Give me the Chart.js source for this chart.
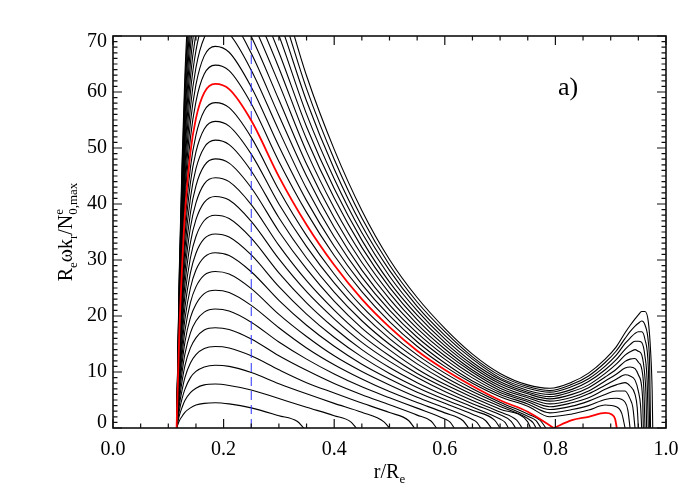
<!DOCTYPE html>
<html lang="en">
<head>
<meta charset="UTF-8">
<title>Dispersion curves a)</title>
<script src="https://cdn.jsdelivr.net/npm/chart.js"></script>
<style>
  body { margin: 0; background: #fff; }
  canvas { display: block; }
</style>
</head>
<body>
<canvas id="chartCanvas" width="700" height="500"></canvas>
<script>
// r/Re sample points shared by every curve
var rGrid = [0.115, 0.12, 0.125, 0.13, 0.14, 0.15, 0.165, 0.185, 0.21, 0.25, 0.3, 0.35, 0.4, 0.45, 0.5,
  0.55, 0.6, 0.65, 0.7, 0.75, 0.79, 0.83, 0.86, 0.89, 0.91, 0.926, 0.935, 0.944, 0.95, 0.956, 0.962, 0.968, 0.972];

// Re*w*kr/N values read along rGrid, one row per curve from bottom to top (row 17 is the red one)
var curveY = [
  [0, 1.3, 2.1, 2.8, 3.6, 4.1, 4.4, 4.5, 4.3, 3.6, 2.2],
  [0, 2.2, 3.7, 4.9, 6.3, 7.1, 7.7, 7.85, 7.6, 6.8, 5.25, 3.7, 2.2],
  [0, 3.1, 5.3, 6.9, 9.0, 10.1, 10.9, 11.2, 11.0, 9.9, 7.9, 6.1, 4.4, 2.8],
  [0, 4.1, 6.8, 9.0, 11.6, 13.1, 14.2, 14.55, 14.3, 12.9, 10.4, 8.1, 6.25, 4.45, 2.75],
  [0, 5.0, 8.4, 11.1, 14.3, 16.1, 17.5, 17.9, 17.6, 15.9, 12.9, 10.3, 7.95, 5.95, 4.15, 2.3],
  [0, 6.0, 10.0, 13.2, 17.0, 19.1, 20.7, 21.25, 20.9, 18.9, 15.35, 12.3, 9.65, 7.35, 5.4, 3.55, 1.6],
  [0, 6.9, 11.6, 15.3, 19.7, 22.1, 24.0, 24.6, 24.2, 21.9, 17.9, 14.3, 11.3, 8.75, 6.5, 4.55, 2.7],
  [0, 7.8, 13.1, 17.3, 22.4, 25.2, 27.3, 27.95, 27.5, 24.9, 20.3, 16.35, 12.9, 10.1, 7.7, 5.5, 3.6, 1.5],
  [0, 8.8, 14.7, 19.4, 25.0, 28.2, 30.5, 31.3, 30.8, 27.9, 22.8, 18.35, 14.6, 11.4, 8.75, 6.4, 4.4, 2.45],
  [0, 9.7, 16.3, 21.5, 27.7, 31.2, 33.8, 34.65, 34.1, 30.9, 25.25, 20.35, 16.2, 12.7, 9.75, 7.25, 5.1, 3.15],
  [0, 10.6, 17.9, 23.6, 30.4, 34.2, 37.05, 38.0, 37.4, 33.9, 27.7, 22.35, 17.85, 14.0, 10.8, 8.1, 5.8, 3.75, 1.6],
  [0, 11.6, 19.4, 25.6, 33.1, 37.2, 40.3, 41.35, 40.7, 36.9, 30.2, 24.35, 19.5, 15.3, 11.9, 9.0, 6.5, 4.35, 2.35],
  [0, 12.5, 21.0, 27.7, 35.8, 40.2, 43.6, 44.7, 44.0, 39.9, 32.6, 26.3, 21.05, 16.55, 12.9, 9.75, 7.2, 4.9, 2.85],
  [0, 13.5, 22.6, 29.8, 38.4, 43.25, 46.85, 48.05, 47.3, 42.9, 35.1, 28.4, 22.65, 17.85, 13.95, 10.55, 7.8, 5.5, 3.35, 1.1],
  [0, 14.4, 24.2, 31.9, 41.1, 46.3, 50.1, 51.4, 50.6, 45.9, 37.55, 30.35, 24.25, 19.15, 14.95, 11.45, 8.5, 6.0, 3.85, 1.7],
  [0, 15.3, 25.7, 33.95, 43.8, 49.3, 53.4, 54.75, 53.9, 48.9, 40.0, 32.4, 25.9, 20.45, 15.95, 12.25, 9.1, 6.5, 4.25, 2.1],
  [0, 16.3, 27.3, 36.0, 46.5, 52.3, 56.65, 58.1, 57.2, 51.9, 42.5, 34.35, 27.5, 21.7, 17.0, 13.05, 9.8, 7.0, 4.6, 2.5],
  [0, 17.2, 28.9, 38.1, 49.2, 55.3, 59.9, 61.45, 60.5, 54.9, 44.9, 36.3, 29.1, 23.0, 18.0, 13.8, 10.4, 7.5, 4.95, 2.9, 0.45],
  [0, 18.1, 30.5, 40.2, 51.8, 58.3, 63.2, 64.8, 63.8, 57.9, 47.6, 38.5, 30.8, 24.35, 19.0, 14.6, 11.0, 8.0, 5.6, 3.9, 2.0, 2.5, 3.2, 4.1, 3.8],
  [0, 19.1, 32.0, 42.25, 54.5, 61.3, 66.45, 68.15, 67.1, 60.9, 50.3, 40.6, 32.45, 25.65, 20.05, 15.4, 11.6, 8.4, 6.0, 4.3, 2.7, 3.3, 4.0, 5.1, 5.3, 4.6],
  [0, 20.0, 33.6, 44.3, 57.2, 64.35, 69.7, 71.5, 70.4, 63.9, 53.1, 42.75, 34.15, 26.95, 21.05, 16.2, 12.3, 8.95, 6.35, 4.7, 3.3, 3.9, 4.8, 6.0, 6.6, 6.6, 5.2],
  [0, 21.0, 35.2, 46.4, 59.9, 67.4, 73.0, 74.85, 73.7, 66.9, 55.8, 45.0, 35.85, 28.2, 22.0, 17.0, 12.9, 9.45, 6.7, 5.0, 3.8, 4.5, 5.4, 6.9, 7.7, 8.1, 7.5, 6.0],
  [0, 21.9, 36.75, 48.5, 62.6, 70.4, 76.25, 78.2, 77.0, 69.9, 58.6, 47.15, 37.55, 29.55, 23.05, 17.8, 13.5, 9.95, 7.1, 5.4, 4.3, 5.0, 6.1, 7.65, 8.7, 9.5, 9.3, 8.55, 6.6],
  [0, 22.8, 38.3, 50.6, 65.2, 73.4, 79.5, 81.55, 80.3, 72.9, 61.5, 49.35, 39.3, 30.9, 24.1, 18.55, 14.1, 10.35, 7.5, 5.7, 4.8, 5.5, 6.6, 8.4, 9.6, 10.7, 10.9, 10.6, 9.5, 7.4],
  [0, 23.8, 39.9, 52.6, 67.9, 76.4, 82.8, 84.9, 83.6, 75.9, 64.3, 51.6, 41.05, 32.25, 25.1, 19.35, 14.7, 10.85, 7.9, 6.1, 5.2, 6.0, 7.2, 9.1, 10.5, 11.9, 12.3, 12.4, 11.75, 10.6],
  [0, 24.7, 41.5, 54.7, 70.6, 79.4, 86.0, 88.25, 86.9, 78.9, 67.1, 53.8, 42.75, 33.55, 26.05, 20.15, 15.3, 11.3, 8.25, 6.4, 5.6, 6.5, 7.7, 9.75, 11.4, 13.0, 13.6, 14.0, 13.7, 13.1, 9.0],
  [0, 25.65, 43.05, 56.8, 73.3, 82.4, 89.3, 91.6, 90.2, 81.9, 70.1, 56.05, 44.5, 34.85, 27.1, 20.95, 15.9, 11.75, 8.65, 6.7, 6.0, 6.9, 8.3, 10.4, 12.2, 14.05, 14.9, 15.5, 15.5, 15.3, 12.8],
  [0, 26.6, 44.6, 58.9, 76.0, 85.5, 92.6, 94.95, 93.5, 84.9, 72.95, 58.4, 46.25, 36.15, 28.15, 21.7, 16.55, 12.3, 8.95, 7.1, 6.4, 7.4, 8.8, 11.05, 13.0, 15.1, 16.05, 16.9, 17.2, 17.2, 15.8, 10.8],
  [0, 27.5, 46.2, 60.95, 78.6, 88.5, 95.8, 98.3, 96.8, 87.9, 75.85, 60.6, 48.0, 37.5, 29.1, 22.5, 17.2, 12.7, 9.35, 7.4, 6.7, 7.8, 9.3, 11.7, 13.75, 16.0, 17.2, 18.2, 18.7, 19.1, 18.4, 15.4],
  [0, 28.5, 47.8, 63.0, 81.3, 91.5, 99.1, 101.65, 100.1, 90.9, 78.9, 62.9, 49.75, 38.85, 30.1, 23.3, 17.8, 13.2, 9.75, 7.7, 7.1, 8.2, 9.8, 12.3, 14.5, 17.0, 18.3, 19.5, 20.2, 20.8, 20.8, 19.0, 14.0]
];

// last [r, value] points of each curve after it leaves rGrid, ending on zero
var curveTail = [
  [[0.333, 1.2], [0.345, 0]],
  [[0.43, 1.1], [0.44, 0]],
  [[0.49, 1.1], [0.5, 0]],
  [[0.535, 1.3], [0.545, 0]],
  [[0.575, 1.25], [0.585, 0]],
  [[0.61, 1.0], [0.617, 0]],
  [[0.633, 1.3], [0.643, 0]],
  [[0.658, 1.0], [0.665, 0]],
  [[0.674, 1.3], [0.684, 0]],
  [[0.69, 1.4], [0.7, 0]],
  [[0.709, 1.0], [0.715, 0]],
  [[0.72, 1.2], [0.728, 0]],
  [[0.73, 1.4], [0.74, 0]],
  [[0.755, 0]],
  [[0.76, 0.9], [0.765, 0]],
  [[0.765, 1.3], [0.774, 0]],
  [[0.772, 1.4], [0.783, 0]],
  [[0.797, 0]],
  [[0.92, 2.6], [0.926, 0]],
  [[0.931, 3.2], [0.935, 0]],
  [[0.94, 3.7], [0.944, 0]],
  [[0.948, 3.6], [0.95, 0]],
  [[0.954, 4.0], [0.956, 0]],
  [[0.958, 4.4], [0.959, 0]],
  [[0.96, 6.8], [0.962, 0]],
  [[0.964, 5.3], [0.965, 0]],
  [[0.966, 8.1], [0.968, 0]],
  [[0.9695, 5.0], [0.9705, 0]],
  [[0.9705, 10.9], [0.972, 0]],
  [[0.975, 6.5], [0.976, 0]]
];

var redIndex = 17;

// small hump of the red curve right of its zero near r = 0.8
var humpR = [0.797, 0.83, 0.86, 0.89, 0.902, 0.908, 0.911];
var humpY = [0, 1.4, 2.0, 2.7, 2.4, 1.6, 0];

// dashed marker
var markerR = 0.25;
var markerY = [0, 70];

var serif = "'Liberation Serif', 'DejaVu Serif', serif";

function buildPoints(ys, tail) {
  var pts = [];
  for (var i = 0; i < ys.length; i++) pts.push({ x: rGrid[i], y: ys[i] });
  tail.forEach(function (p) { pts.push({ x: p[0], y: p[1] }); });
  return pts;
}

var datasets = [];
curveY.forEach(function (ys, k) {
  var red = k === redIndex;
  datasets.push({
    data: buildPoints(ys, curveTail[k]),
    borderColor: red ? '#ff0000' : '#000000',
    borderWidth: red ? 1.8 : 1.1,
    order: red ? 0 : 2
  });
});
datasets.push({
  data: humpR.map(function (r, i) { return { x: r, y: humpY[i] }; }),
  borderColor: '#ff0000',
  borderWidth: 1.8,
  order: 0
});
datasets.push({
  data: markerY.map(function (v) { return { x: markerR, y: v }; }),
  borderColor: 'rgb(40,50,255)',
  borderWidth: 1,
  borderDash: [9, 5],
  cubicInterpolationMode: 'default',
  tension: 0,
  order: 1
});

// draws rich text (0 normal, 1 subscript, 2 superscript stacked over the next subscript)
function drawRich(ctx, parts, big, small) {
  var widths = parts.map(function (p) {
    ctx.font = (p[1] ? small : big) + 'px ' + serif;
    return ctx.measureText(p[0]).width;
  });
  var total = 0;
  parts.forEach(function (p, i) {
    if (p[1] === 2) return;
    var w = widths[i];
    if (i > 0 && parts[i - 1][1] === 2) w = Math.max(w, widths[i - 1]);
    total += w;
  });
  var x = -total / 2;
  parts.forEach(function (p, i) {
    ctx.font = (p[1] ? small : big) + 'px ' + serif;
    var dy = p[1] === 1 ? 5 : (p[1] === 2 ? -9 : 0);
    ctx.fillText(p[0], x, dy);
    if (p[1] === 2) return;
    var w = widths[i];
    if (i > 0 && parts[i - 1][1] === 2) w = Math.max(w, widths[i - 1]);
    x += w;
  });
}

var framePlugin = {
  id: 'frame',
  afterDraw: function (chart) {
    var ctx = chart.ctx, a = chart.chartArea, xs = chart.scales.x, ys = chart.scales.y;
    ctx.save();
    ctx.strokeStyle = '#111';
    ctx.lineWidth = 1.6;
    ctx.strokeRect(a.left, a.top, a.right - a.left, a.bottom - a.top);

    ctx.lineWidth = 1.2;
    ctx.beginPath();
    for (var i = 0; i <= 20; i++) {
      var px = xs.getPixelForValue(i * 0.05), len = (i % 4 === 0) ? 9 : 4.5;
      ctx.moveTo(px, a.bottom); ctx.lineTo(px, a.bottom - len);
      ctx.moveTo(px, a.top); ctx.lineTo(px, a.top + len);
    }
    for (var j = 0; j <= 70; j++) {
      var py = ys.getPixelForValue(j), l2 = (j % 10 === 0) ? 9 : 4.5;
      ctx.moveTo(a.left, py); ctx.lineTo(a.left + l2, py);
      ctx.moveTo(a.right, py); ctx.lineTo(a.right - l2, py);
    }
    ctx.stroke();

    ctx.fillStyle = '#000';

    // y tick labels, the end ones kept inside the frame height
    ctx.font = '20px ' + serif;
    ctx.textAlign = 'right';
    ctx.textBaseline = 'middle';
    ys.ticks.forEach(function (t) {
      var py = Math.min(Math.max(ys.getPixelForValue(t.value), a.top + 6), a.bottom - 5);
      ctx.fillText(String(t.value), a.left - 6, py);
    });

    ctx.textBaseline = 'alphabetic';
    ctx.textAlign = 'left';

    // x title
    ctx.save();
    ctx.translate(xs.getPixelForValue(0.5), 478);
    drawRich(ctx, [['r/R', 0], ['e', 1]], 20, 13);
    ctx.restore();

    // y title
    ctx.save();
    ctx.translate(72, (a.top + a.bottom) / 2);
    ctx.rotate(-Math.PI / 2);
    drawRich(ctx, [['R', 0], ['e', 1], ['\u03c9k', 0], ['r', 1], ['/N', 0], ['e', 2], ['0,max', 1]], 20, 13);
    ctx.restore();

    // panel label
    ctx.font = '26px ' + serif;
    ctx.textAlign = 'center';
    ctx.textBaseline = 'middle';
    ctx.fillText('a)', 568, 88);
    ctx.restore();
  }
};

new Chart(document.getElementById('chartCanvas').getContext('2d'), {
  type: 'line',
  data: { datasets: datasets },
  options: {
    responsive: false,
    devicePixelRatio: 1,
    animation: false,
    layout: { padding: { left: 0, right: 34, top: 36, bottom: 0 } },
    elements: {
      point: { radius: 0 },
      line: { cubicInterpolationMode: 'monotone', fill: false }
    },
    plugins: { legend: { display: false }, tooltip: { enabled: false } },
    scales: {
      x: {
        type: 'linear', min: 0, max: 1,
        grid: { display: false, drawTicks: false },
        border: { display: false },
        ticks: {
          stepSize: 0.2, autoSkip: false, maxRotation: 0, padding: 10,
          color: '#000', font: { family: serif, size: 20 },
          callback: function (v) { return v.toFixed(1); }
        },
        afterFit: function (s) { s.height = 72; }
      },
      y: {
        type: 'linear', min: 0, max: 70,
        grid: { display: false, drawTicks: false },
        border: { display: false },
        ticks: {
          stepSize: 10, padding: 6, display: false,
          color: '#000', font: { family: serif, size: 20 }
        },
        afterFit: function (s) { s.width = 113; }
      }
    }
  },
  plugins: [framePlugin]
});
</script>
</body>
</html>
